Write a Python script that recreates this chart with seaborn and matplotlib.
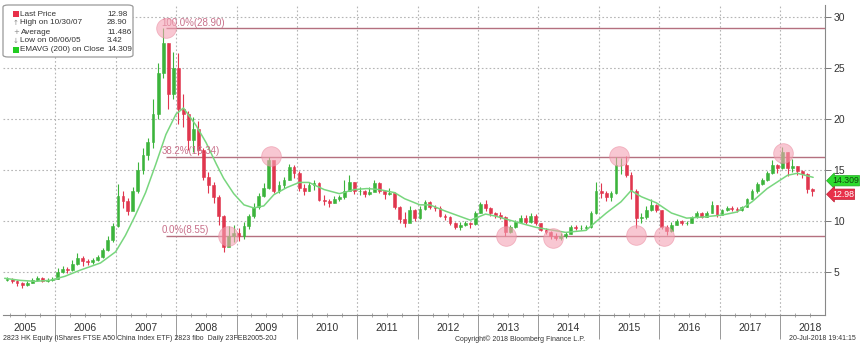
import numpy as np
import pandas as pd
import matplotlib
matplotlib.use("Agg")
import matplotlib.pyplot as plt
import matplotlib.dates as mdates
from matplotlib.patches import FancyBboxPatch, Rectangle
from matplotlib import font_manager
import seaborn as sns

# ---------------- data ----------------
month_first = "2005-03-01"
month_last = "2018-07-01"
first_open = 4.2
close_px = [
    4.3, 4.1, 3.9, 3.7, 3.9, 4.2, 4.4, 4.1, 4.2, 4.3,
    5.0, 5.3, 5.2, 5.8, 6.4, 6.1, 6.0, 6.2, 6.5, 7.2, 8.2, 9.5,
    12.5, 12.0, 11.0, 13.0, 15.0, 16.5, 17.8, 20.5, 24.5, 27.5, 22.5, 25.0,
    21.0, 20.5, 18.0, 19.0, 17.0, 14.3, 13.5, 12.4, 10.5, 7.5, 8.5, 8.8,
    8.5, 9.5, 10.5, 11.4, 12.5, 13.3, 16.0, 13.0, 13.5, 14.0, 15.3, 14.7,
    13.3, 13.0, 13.5, 13.7, 12.1, 12.0, 11.8, 12.2, 12.4, 13.0, 13.8, 13.0,
    13.0, 12.7, 12.9, 13.7, 13.0, 12.7, 12.8, 11.4, 10.2, 9.8, 11.1, 10.3,
    11.2, 11.9, 11.4, 11.3, 10.5, 10.4, 9.8, 9.4, 9.6, 9.8, 9.7, 10.8,
    11.7, 11.3, 10.8, 10.6, 10.4, 8.9, 9.4, 9.9, 10.3, 9.9, 10.5, 9.8,
    9.1, 8.9, 8.5, 8.4, 8.5, 8.7, 9.4, 9.3, 9.3, 9.4, 10.8, 13.0,
    12.8, 12.4, 12.8, 15.5, 15.5, 14.5, 13.0, 10.3, 10.4, 11.1, 11.6, 11.1,
    9.4, 9.0, 9.6, 10.0, 9.8, 9.8, 10.4, 10.8, 10.4, 10.8, 11.6, 10.6,
    11.1, 11.3, 11.2, 11.1, 11.4, 12.2, 13.0, 13.6, 14.0, 14.7, 15.5, 15.2,
    16.8, 15.2, 15.4, 14.9, 14.6, 13.2, 12.98,
]
high_px = [
    4.5, 4.4, 4.2, 4.0, 4.1, 4.4, 4.6, 4.5, 4.4, 4.5,
    5.4, 5.6, 5.5, 6.2, 6.9, 6.6, 6.3, 6.4, 6.7, 7.4, 8.5, 9.8,
    13.6, 13.0, 12.3, 13.4, 15.8, 17.2, 18.2, 22.0, 25.5, 28.9, 27.5, 26.6,
    26.5, 22.5, 20.8, 20.2, 19.8, 17.2, 14.8, 13.8, 12.6, 10.6, 9.5, 9.6,
    9.3, 9.9, 10.7, 11.8, 12.8, 13.7, 16.3, 15.8, 13.9, 14.3, 15.6, 15.5,
    14.9, 13.6, 13.8, 14.0, 13.8, 12.6, 12.2, 12.5, 12.6, 14.0, 14.5, 13.8,
    13.4, 13.1, 13.4, 14.0, 13.8, 13.0, 13.3, 12.9, 11.5, 10.9, 11.5, 11.2,
    11.5, 12.1, 12.0, 11.6, 11.5, 10.7, 10.5, 9.9, 9.9, 10.0, 9.9, 11.0,
    11.9, 12.1, 11.4, 10.9, 10.9, 10.5, 9.6, 10.1, 10.6, 10.6, 10.8, 10.7,
    9.8, 9.3, 9.0, 8.8, 8.8, 8.9, 9.6, 9.6, 9.6, 9.6, 11.0, 13.8,
    13.7, 13.0, 13.0, 16.3, 16.2, 16.4, 14.8, 13.2, 10.8, 11.5, 12.2, 11.7,
    11.1, 9.6, 9.9, 10.2, 10.1, 10.0, 10.5, 11.0, 10.9, 11.0, 12.0, 11.6,
    11.2, 11.5, 11.5, 11.4, 11.5, 12.3, 13.2, 13.8, 14.2, 14.9, 16.0, 15.6,
    17.3, 16.8, 16.1, 15.4, 15.0, 14.7, 13.3,
]
low_px = [
    4.1, 3.9, 3.6, 3.42, 3.6, 3.9, 4.1, 4.0, 4.0, 4.1,
    4.3, 4.9, 4.9, 5.1, 5.7, 5.6, 5.7, 5.8, 6.1, 6.4, 7.1, 8.0,
    9.4, 11.3, 10.6, 11.1, 12.8, 14.6, 16.0, 17.2, 20.0, 24.0, 21.0, 22.0,
    19.5, 19.2, 17.0, 16.8, 16.5, 14.0, 12.8, 11.8, 9.6, 7.0, 7.6, 8.0,
    8.1, 8.3, 9.2, 10.3, 11.2, 12.4, 13.2, 12.8, 12.8, 13.3, 14.0, 14.2,
    13.0, 12.6, 13.0, 13.1, 12.0, 11.6, 11.4, 11.8, 12.0, 12.2, 13.2, 12.7,
    12.6, 12.4, 12.6, 13.0, 12.8, 12.2, 12.6, 11.2, 9.8, 9.4, 10.5, 10.0,
    10.2, 11.1, 11.2, 11.0, 10.4, 10.1, 9.6, 9.2, 9.1, 9.5, 9.3, 9.6,
    10.8, 11.0, 10.5, 10.3, 10.2, 8.5, 8.8, 9.3, 9.8, 9.7, 9.8, 9.6,
    9.0, 8.7, 8.3, 8.2, 8.2, 8.4, 8.7, 9.1, 9.1, 9.1, 9.3, 10.7,
    12.3, 12.0, 12.0, 12.7, 14.6, 14.3, 12.2, 9.3, 9.8, 10.2, 11.0, 10.9,
    9.2, 8.6, 8.9, 9.6, 9.6, 9.6, 9.8, 10.3, 10.3, 10.4, 10.8, 10.4,
    10.6, 11.0, 11.0, 10.9, 11.0, 11.4, 12.2, 12.8, 13.5, 13.9, 14.6, 14.7,
    15.1, 14.4, 14.8, 14.5, 14.2, 12.8, 12.5,
]

ema_dates = [
    "2005-03-01", "2005-06-01", "2005-09-01", "2005-12-01", "2006-03-01", "2006-06-01",
    "2006-10-01", "2007-01-01", "2007-03-01", "2007-05-01", "2007-07-01", "2007-09-01",
    "2007-11-01", "2008-01-01", "2008-02-15", "2008-05-01", "2008-07-01", "2008-09-01",
    "2008-10-15", "2008-12-15", "2009-02-15", "2009-04-15", "2009-06-15", "2009-08-15",
    "2009-11-01", "2010-01-15", "2010-03-15", "2010-06-15", "2010-09-15", "2010-12-15",
    "2011-03-01", "2011-05-15", "2011-08-15", "2011-10-15", "2012-01-15", "2012-03-15",
    "2012-06-15", "2012-11-15", "2013-02-15", "2013-04-15", "2013-09-15", "2013-12-15",
    "2014-06-15", "2014-10-15", "2015-02-15", "2015-05-15", "2015-07-15", "2015-09-15",
    "2015-12-15", "2016-03-15", "2016-06-15", "2016-09-15", "2017-01-15", "2017-04-15",
    "2017-07-15", "2017-10-15", "2018-02-15", "2018-04-15", "2018-07-20",
]
ema_vals = [
    4.4, 4.2, 4.1, 4.2, 4.6, 5.2,
    5.9, 7.0, 8.6, 10.6, 12.8, 15.6,
    18.5, 20.5, 21.1, 19.4, 17.7, 15.6,
    14.2, 12.7, 11.6, 11.3, 11.5, 12.6,
    13.3, 13.8, 13.8, 13.1, 12.7, 13.1,
    13.2, 13.1, 12.8, 12.2, 11.6, 11.6,
    11.0, 10.1, 10.7, 10.5, 9.8, 9.4,
    8.9, 9.1, 10.8, 11.9, 13.0, 12.4,
    11.8, 10.8, 10.3, 10.4, 10.6, 10.9,
    11.9, 13.2, 14.5, 14.7, 14.3,
]

fib_levels = [28.90, 16.34, 8.55]
fib_labels = ["100.0%(28.90)", "38.2%(16.34)", "0.0%(8.55)"]
fib_start = "2007-10-30"

circle_dates = ["2007-10-30", "2008-11-10", "2009-07-27", "2013-06-17", "2014-03-27",
                "2015-05-05", "2015-08-15", "2016-01-30", "2018-01-20"]
circle_vals = [28.9, 8.5, 16.4, 8.5, 8.4, 16.4, 8.6, 8.5, 16.7]

year_labels = [str(y) for y in range(2005, 2019)]
y_ticks = [5, 10, 15, 20, 25, 30]

legend_names = ["Last Price", "High on 10/30/07", "Average", "Low on 06/06/05", "EMAVG (200) on Close"]
legend_values = ["12.98", "28.90", "11.486", "3.42", "14.309"]
last_price = 12.98
ema_last = 14.309

footer_left = "2823 HK Equity (iShares FTSE A50 China Index ETF) 2823 fibo  Daily 23FEB2005-20J"
footer_mid = "Copyright\u00a9 2018 Bloomberg Finance L.P."
footer_right = "20-Jul-2018 19:41:15"

# ---------------- style ----------------
sns.set_theme(style="white")
names = {f.name for f in font_manager.fontManager.ttflist}
NARROW = "Liberation Sans Narrow" if "Liberation Sans Narrow" in names else "Liberation Sans"
plt.rcParams["font.family"] = [NARROW, "DejaVu Sans"]

W, H = 865, 355
fig = plt.figure(figsize=(W / 100, H / 100), dpi=100)
fig.patch.set_facecolor("white")
ax = fig.add_axes([3 / W, 40 / H, 822 / W, 310 / H])
ax.set_facecolor("white")

# ---------------- candles ----------------
months = pd.date_range(month_first, month_last, freq="MS") + pd.Timedelta(days=14)
df = pd.DataFrame({"date": months, "close": close_px, "high": high_px, "low": low_px})
df["open"] = [first_open] + close_px[:-1]
df["up"] = df["close"] >= df["open"]
xnum = mdates.date2num(df["date"])
UP, DOWN = "#3cb43c", "#e0364e"
cols = np.where(df["up"], UP, DOWN)

ax.vlines(xnum, df["low"], df["high"], colors=cols, lw=0.8, zorder=3)
ax.bar(xnum, (df["close"] - df["open"]).values, bottom=df["open"].values, width=17,
       color=cols, edgecolor=cols, linewidth=0.4, zorder=4)

# ---------------- EMA ----------------
ema_df = pd.DataFrame({"date": mdates.date2num(pd.to_datetime(ema_dates)), "ema": ema_vals})
sns.lineplot(data=ema_df, x="date", y="ema", color="#78d67e", lw=1.1, ax=ax, zorder=5)

# ---------------- axes ranges ----------------
t0 = pd.Timestamp("2008-01-01")
px_per_year = 60.4
def px_to_date(p):
    return t0 + pd.Timedelta(days=(p - 176) / px_per_year * 365.25)
xmin = mdates.date2num(px_to_date(3))
xmax = mdates.date2num(px_to_date(825))
ax.set_xlim(xmin, xmax)
ax.set_ylim(0.8, 31.2)

# ---------------- fibonacci ----------------
fs = mdates.date2num(pd.Timestamp(fib_start))
ax.hlines(fib_levels, fs, xmax, colors="#b4707f", lw=1.0, zorder=2)
for lvl, lab in zip(fib_levels, fib_labels):
    ax.annotate(lab, xy=(fs, lvl), xytext=(-3, 0.5), textcoords="offset points",
                color="#c8708a", fontsize=7, ha="left", va="bottom", zorder=6)

# ---------------- circles ----------------
circ_df = pd.DataFrame({"date": mdates.date2num(pd.to_datetime(circle_dates)), "v": circle_vals})
sns.scatterplot(data=circ_df, x="date", y="v", s=200, color="#f4a3b4", alpha=0.6,
                edgecolor="#eb8ea2", linewidth=0.6, ax=ax, zorder=7, legend=False)

# ---------------- ticks / grid ----------------
ax.set_xlabel("")
ax.set_ylabel("")
ax.yaxis.tick_right()
ax.set_yticks(y_ticks)
ax.set_yticklabels([str(v) for v in y_ticks])
ax.tick_params(axis="y", which="major", right=True, left=False, length=4, width=0.7,
               color="#777777", labelsize=7.5, labelcolor="#333333", pad=2)

year_starts = [mdates.date2num(pd.Timestamp(f"{y}-01-01")) for y in range(2006, 2019)]
ax.set_xticks(year_starts)
ax.set_xticklabels([""] * len(year_starts))
ax.xaxis.set_minor_locator(mdates.MonthLocator(bymonth=[4, 7, 10]))
ax.tick_params(axis="x", which="major", bottom=True, length=17, width=0.7, color="#999999")
ax.tick_params(axis="x", which="minor", bottom=True, length=3, width=0.6, color="#999999",
               direction="inout")

for y in y_ticks:
    ax.axhline(y, color="#b5b5b5", lw=0.8, ls=(0, (1.5, 2)), zorder=1)
for xs in year_starts:
    ax.axvline(xs, color="#b5b5b5", lw=0.8, ls=(0, (1.5, 2)), zorder=1)

for s in ["top", "left"]:
    ax.spines[s].set_visible(False)
for s in ["right", "bottom"]:
    ax.spines[s].set_visible(True)
    ax.spines[s].set_color("#888888")
    ax.spines[s].set_linewidth(0.8)

trans = ax.get_xaxis_transform()
for lab in year_labels:
    xc = mdates.date2num(pd.Timestamp(f"{lab}-07-01"))
    ax.text(xc, -13 / 310, lab, transform=trans, ha="center", va="center",
            fontsize=7.5, color="#333333", clip_on=False)

# ---------------- value tags ----------------
ax.annotate(f"{ema_last:.3f}", xy=(1.0, ema_last), xycoords=("axes fraction", "data"),
            xytext=(5, -2.5), textcoords="offset points", ha="left", va="center",
            fontsize=6.3, color="#114411",
            bbox=dict(boxstyle="larrow,pad=0.08", fc="#2ddc2d", ec="#22aa22", lw=0.5),
            annotation_clip=False, zorder=10)
ax.annotate(f"{last_price:.2f}", xy=(1.0, last_price), xycoords=("axes fraction", "data"),
            xytext=(5, -2.5), textcoords="offset points", ha="left", va="center",
            fontsize=6.3, color="white",
            bbox=dict(boxstyle="larrow,pad=0.08", fc="#e8304a", ec="#c02035", lw=0.5),
            annotation_clip=False, zorder=10)

# ---------------- legend box ----------------
def fx(p):
    return p / W
def fy(p):
    return 1 - p / H

box = FancyBboxPatch((fx(3), fy(57)), 130 / W, 52 / H, boxstyle="round,pad=0,rounding_size=0.006",
                     transform=fig.transFigure, fc="white", ec="#9a9a9a", lw=0.9, zorder=20)
fig.add_artist(box)
row_y = [14, 23, 32, 41, 49.5]
icons = ["sq_red", "\u2191", "+", "\u2193", "sq_green"]
for yy, name, val, ic in zip(row_y, legend_names, legend_values, icons):
    if ic.startswith("sq"):
        colr = "#e8304a" if ic == "sq_red" else "#22cc22"
        fig.add_artist(Rectangle((fx(13), fy(yy + 3)), 6 / W, 6 / H, transform=fig.transFigure,
                                 fc=colr, ec="none", zorder=21))
    else:
        fig.text(fx(16), fy(yy), ic, fontsize=5, color="#888888", ha="center", va="center",
                 zorder=21, family=["DejaVu Sans"])
    fig.text(fx(20.5), fy(yy), name, fontsize=5.9, color="#333333", ha="left", va="center", zorder=21)
    fig.text(fx(107), fy(yy), val, fontsize=5.9, color="#333333", ha="left", va="center", zorder=21)

# ---------------- footer ----------------
fig.text(fx(3), fy(339), footer_left, fontsize=5.0, color="#333333", ha="left", va="center")
fig.text(fx(520), fy(339), footer_mid, fontsize=5.0, color="#333333", ha="center", va="center")
fig.text(fx(856), fy(339), footer_right, fontsize=5.0, color="#333333", ha="right", va="center")

fig.savefig("out.png", dpi=100, facecolor="white")
